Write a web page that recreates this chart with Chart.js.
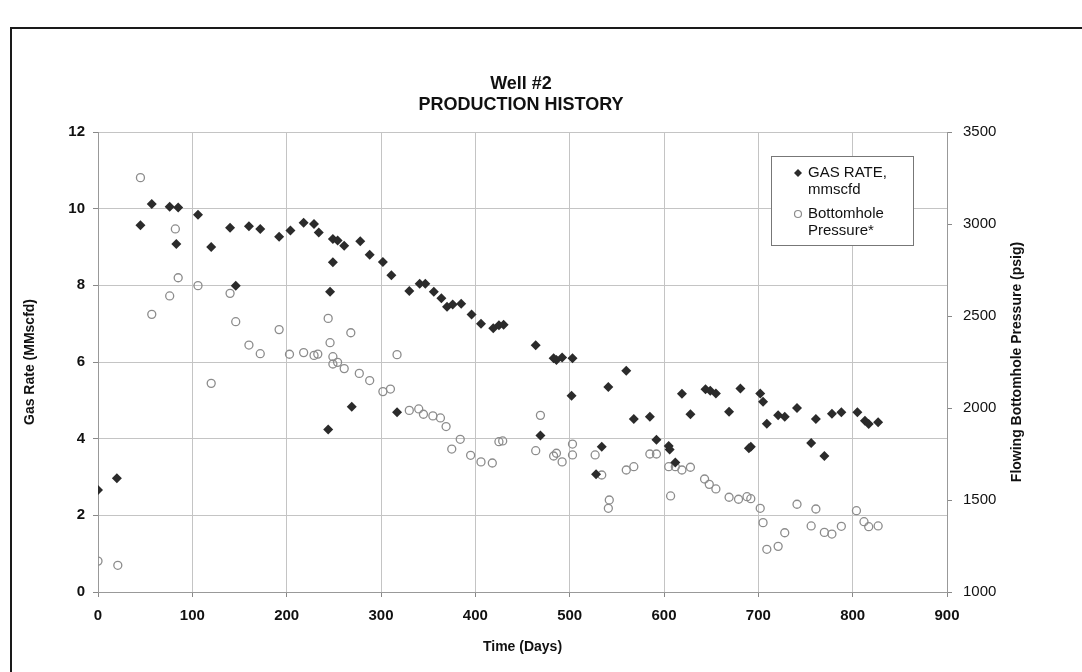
<!DOCTYPE html>
<html>
<head>
<meta charset="utf-8">
<title>Well #2 Production History</title>
<script src="https://cdn.jsdelivr.net/npm/chart.js@4.4.1/dist/chart.umd.min.js"></script>
<style>
  html, body { margin: 0; padding: 0; background: #fff; }
  #wrap { position: relative; width: 1082px; height: 672px; overflow: hidden; }
  #frame { position: absolute; left: 10px; top: 27px; width: 1200px; height: 800px;
           border-left: 2px solid #1a1a1a; border-top: 2px solid #1a1a1a; pointer-events: none; }
</style>
</head>
<body>
<div id="wrap">
  <canvas id="myChart" width="1082" height="672"></canvas>
  <div id="frame"></div>
</div>
<script>
// gas rate, MMscfd
const gasDays = [0, 20, 45, 57, 76, 85, 83, 106, 120, 140, 146, 160, 172, 192, 204, 218, 229, 234, 249, 254,
  261, 278, 288, 302, 311, 330, 341, 347, 356, 364, 370, 376, 385, 396, 406, 419, 425, 430, 249, 246,
  269, 244, 317, 464, 483, 486, 492, 503, 502, 469, 534, 528, 560, 541, 568, 585, 592, 605, 606, 612,
  619, 628, 644, 649, 655, 669, 681, 690, 692, 702, 705, 709, 721, 728, 741, 761, 756, 770, 778, 788,
  805, 813, 817, 827];
const gasRate = [2.66, 2.97, 9.57, 10.12, 10.05, 10.03, 9.08, 9.84, 9.0, 9.5, 7.99, 9.54, 9.47, 9.27, 9.43, 9.63, 9.6, 9.38, 9.21, 9.17,
  9.03, 9.15, 8.8, 8.61, 8.26, 7.85, 8.04, 8.04, 7.83, 7.66, 7.44, 7.5, 7.52, 7.24, 7.0, 6.88, 6.96, 6.97, 8.6, 7.83,
  4.83, 4.24, 4.69, 6.44, 6.1, 6.05, 6.12, 6.1, 5.12, 4.08, 3.79, 3.07, 5.77, 5.35, 4.51, 4.57, 3.97, 3.81, 3.72, 3.38,
  5.17, 4.64, 5.29, 5.25, 5.18, 4.7, 5.31, 3.75, 3.79, 5.18, 4.96, 4.39, 4.61, 4.57, 4.8, 4.51, 3.89, 3.55, 4.65, 4.69,
  4.69, 4.47, 4.38, 4.43];

// flowing bottomhole pressure, psig
const bhpDays = [0, 21, 45, 57, 76, 82, 85, 106, 120, 140, 146, 160, 172, 192, 203, 218, 229, 233, 244, 246,
  249, 249, 254, 261, 268, 277, 288, 302, 310, 317, 330, 340, 345, 355, 363, 369, 375, 384, 395, 406,
  418, 425, 429, 464, 469, 483, 486, 492, 503, 503, 527, 534, 541, 542, 560, 568, 585, 592, 605, 607,
  612, 619, 628, 643, 648, 655, 669, 679, 688, 692, 702, 705, 709, 721, 728, 741, 756, 761, 770, 778,
  788, 804, 812, 817, 827];
const bhpPressure = [1168, 1145, 3252, 2509, 2609, 2973, 2708, 2665, 2134, 2623, 2469, 2342, 2295, 2426, 2292, 2301, 2286, 2293, 2487, 2355,
  2279, 2239, 2248, 2214, 2409, 2188, 2149, 2089, 2103, 2290, 1987, 1995, 1966, 1957, 1946, 1899, 1777, 1830, 1743, 1707,
  1701, 1817, 1821, 1768, 1960, 1739, 1754, 1707, 1804, 1745, 1745, 1636, 1455, 1500, 1663, 1681, 1750, 1750, 1681, 1522,
  1681, 1663, 1678, 1614, 1585, 1560, 1515, 1504, 1518, 1507, 1455, 1377, 1232, 1248, 1322, 1477, 1359, 1451, 1324, 1315,
  1357, 1442, 1382, 1355, 1359];

const xTicks = [0, 100, 200, 300, 400, 500, 600, 700, 800, 900];
const rateTicks = [0, 2, 4, 6, 8, 10, 12];
const pressureTicks = [1000, 1500, 2000, 2500, 3000, 3500];

const titleLines = ["Well #2", "PRODUCTION HISTORY"];
const legendItems = [
  { lines: ["GAS RATE,", "mmscfd"], kind: "diamond" },
  { lines: ["Bottomhole", "Pressure*"], kind: "circle" }
];

const FONT = "'Liberation Sans', Arial, sans-serif";
const gasColor = "#2b2b2b";
const bhpColor = "#8c8c8c";

function toPoints(xs, ys) {
  return xs.map((x, i) => ({ x: x, y: ys[i] }));
}

// title, right axis title and the legend box are painted by hand
const decorations = {
  id: "decorations",
  beforeDraw(chart) {
    const ctx = chart.ctx;
    ctx.save();
    ctx.fillStyle = "#fff";
    ctx.fillRect(0, 0, chart.width, chart.height);
    ctx.restore();
  },
  afterDraw(chart) {
    const ctx = chart.ctx;
    ctx.save();
    ctx.fillStyle = "#111";
    ctx.textAlign = "center";
    ctx.textBaseline = "middle";
    ctx.font = "bold 18px " + FONT;
    ctx.fillText(titleLines[0], 521, 84);
    ctx.fillText(titleLines[1], 521, 105);

    // right axis title, reading upward
    ctx.save();
    ctx.translate(1017, 362);
    ctx.rotate(-Math.PI / 2);
    ctx.font = "bold 14px " + FONT;
    ctx.fillText("Flowing Bottomhole Pressure (psig)", 0, 0);
    ctx.restore();

    // legend
    const lx = 771, ly = 156, lw = 142, lh = 89;
    ctx.fillStyle = "#fff";
    ctx.fillRect(lx, ly, lw, lh);
    ctx.strokeStyle = "#777";
    ctx.lineWidth = 1;
    ctx.strokeRect(lx + 0.5, ly + 0.5, lw, lh);
    ctx.font = "15px " + FONT;
    ctx.textAlign = "left";
    legendItems.forEach((item, i) => {
      const y0 = ly + 17 + i * 41;
      if (item.kind === "diamond") {
        ctx.fillStyle = gasColor;
        ctx.beginPath();
        ctx.moveTo(798, y0 - 4);
        ctx.lineTo(802, y0);
        ctx.lineTo(798, y0 + 4);
        ctx.lineTo(794, y0);
        ctx.closePath();
        ctx.fill();
      } else {
        ctx.strokeStyle = bhpColor;
        ctx.lineWidth = 1.2;
        ctx.beginPath();
        ctx.arc(798, y0, 3.5, 0, Math.PI * 2);
        ctx.stroke();
      }
      ctx.fillStyle = "#111";
      ctx.fillText(item.lines[0], 808, y0);
      ctx.fillText(item.lines[1], 808, y0 + 17);
    });
    ctx.restore();
  }
};

new Chart("myChart", {
  type: "scatter",
  data: {
    datasets: [
      {
        label: "GAS RATE, mmscfd",
        data: toPoints(gasDays, gasRate),
        yAxisID: "y",
        pointStyle: "rectRot",
        pointRadius: 5,
        pointBackgroundColor: gasColor,
        pointBorderColor: gasColor,
        pointBorderWidth: 0
      },
      {
        label: "Bottomhole Pressure*",
        data: toPoints(bhpDays, bhpPressure),
        yAxisID: "y1",
        pointStyle: "circle",
        pointRadius: 4,
        pointBackgroundColor: "rgba(255,255,255,0)",
        pointBorderColor: bhpColor,
        pointBorderWidth: 1.3
      }
    ]
  },
  options: {
    responsive: false,
    animation: false,
    layout: { padding: { top: 132, left: 0, right: 0, bottom: 0 } },
    plugins: {
      legend: { display: false },
      title: { display: false },
      tooltip: { enabled: false }
    },
    scales: {
      x: {
        type: "linear",
        min: 0,
        max: 900,
        afterBuildTicks: (scale) => { scale.ticks = xTicks.map((v) => ({ value: v })); },
        afterFit: (scale) => { scale.height = 80; },
        grid: { color: "#c4c4c4", tickColor: "#888", tickLength: 5 },
        border: { color: "#999" },
        ticks: { color: "#111", padding: 10, font: { family: FONT, size: 15, weight: "bold" },
                 callback: (v) => String(v) },
        title: { display: true, text: "Time (Days)", color: "#111",
                 padding: { top: 0, bottom: 16 }, font: { family: FONT, size: 14, weight: "bold" } }
      },
      y: {
        position: "left",
        min: 0,
        max: 12,
        afterBuildTicks: (scale) => { scale.ticks = rateTicks.map((v) => ({ value: v })); },
        afterFit: (scale) => { scale.width = 98; },
        grid: { color: "#c4c4c4", tickColor: "#888", tickLength: 5 },
        border: { color: "#999" },
        ticks: { color: "#111", padding: 8, font: { family: FONT, size: 15, weight: "bold" },
                 callback: (v) => String(v) },
        title: { display: true, text: "Gas Rate (MMscfd)", color: "#111",
                 padding: { top: 22, bottom: 0 }, font: { family: FONT, size: 14, weight: "bold" } }
      },
      y1: {
        position: "right",
        min: 1000,
        max: 3500,
        afterBuildTicks: (scale) => { scale.ticks = pressureTicks.map((v) => ({ value: v })); },
        afterFit: (scale) => { scale.width = 135; },
        grid: { drawOnChartArea: false, tickColor: "#888", tickLength: 5 },
        border: { color: "#999" },
        ticks: { color: "#111", padding: 11, font: { family: FONT, size: 15 },
                 callback: (v) => String(v) }
      }
    }
  },
  plugins: [decorations]
});
</script>
</body>
</html>
